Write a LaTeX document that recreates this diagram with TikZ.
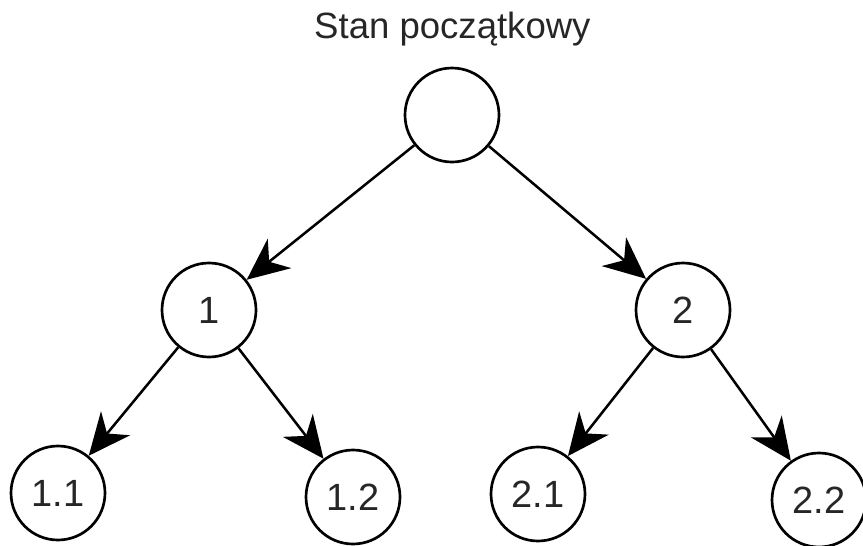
\documentclass[tikz,border=0pt]{standalone}
\usepackage{fontspec}
\setmainfont{Liberation Sans}
\usetikzlibrary{arrows.meta}
\tikzset{
  >={Stealth[length=10.5mm,width=9.4mm,inset=3.3mm]},
  state/.style={circle,draw=black,line width=1.9pt,minimum size=2.35cm,
    inner sep=0pt,font=\fontsize{27}{32}\selectfont,text=black!85},
  move/.style={->,line width=1.8pt,draw=black},
  caption/.style={font=\fontsize{26}{31}\selectfont,text=black!85},
}
\begin{document}
\begin{tikzpicture}
  \useasboundingbox (0,0) rectangle (21.575,-13.625);
  \node[caption,anchor=base] (title) at (11.31,-0.95) {Stan początkowy};
  % drzewo stanów
  \node[state] (root) at (11.3,-2.875) {};
  \node[state] (n1) at (5.225,-7.75) {1};
  \node[state] (n2) at (17.075,-7.75) {2};
  \node[state] (n11) at (1.45,-12.325) {1.1};
  \node[state] (n12) at (8.825,-12.425) {1.2};
  \node[state] (n21) at (13.45,-12.35) {2.1};
  \node[state] (n22) at (20.475,-12.5) {2.2};
  \foreach \a/\b in {root/n1,root/n2,n1/n11,n1/n12,n2/n21,n2/n22}
    \draw[move] (\a) -- (\b);
\end{tikzpicture}
\end{document}
